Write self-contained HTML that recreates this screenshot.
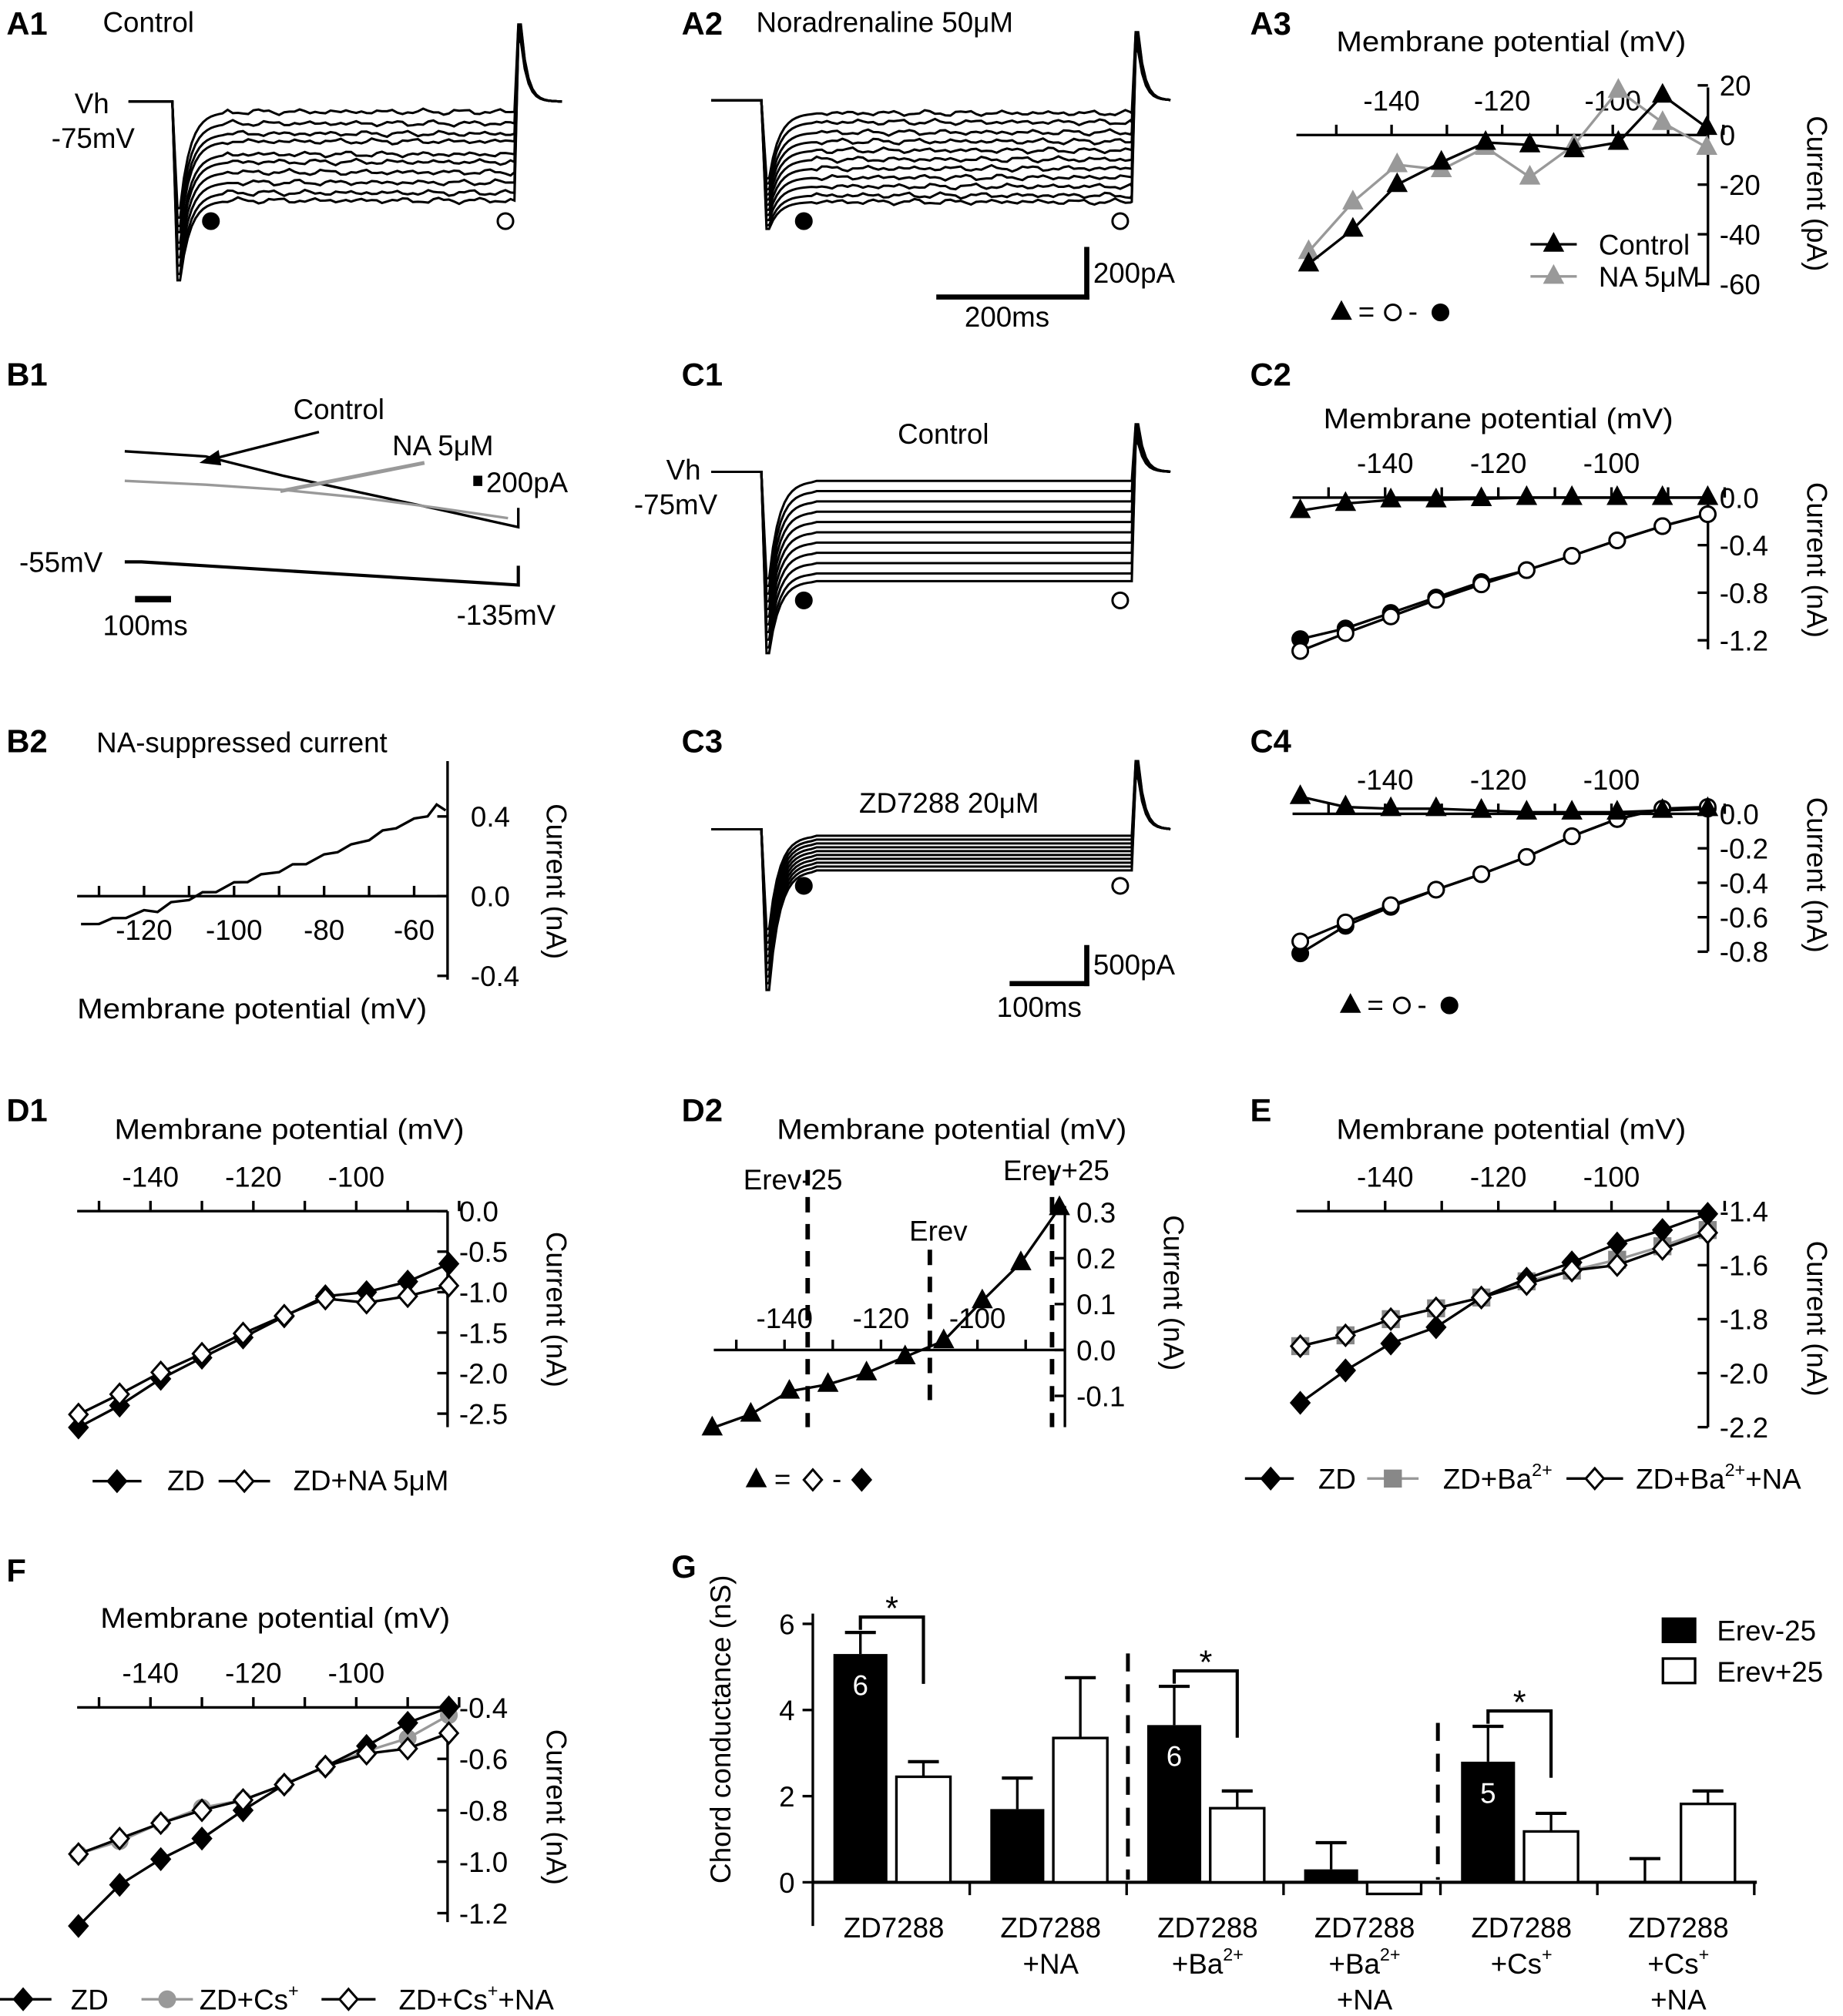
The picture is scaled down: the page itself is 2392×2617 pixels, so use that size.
<!DOCTYPE html>
<html><head><meta charset="utf-8">
<style>
html,body{margin:0;padding:0;background:#fff}
svg{display:block}
text{font-family:"Liberation Sans",sans-serif}
</style></head>
<body>
<svg id="fig" xmlns="http://www.w3.org/2000/svg" width="2392" height="2617" viewBox="0 0 1433 1568" preserveAspectRatio="none">
<g id="g"></g>
</svg>
<script>
// ---------- data ----------
const vA = [-155,-147,-139,-131,-123,-115,-107,-99,-91,-83];
const vD = [-154,-146,-138,-130,-122,-114,-106,-98,-90,-82];
const a3Control = [-52,-38,-20,-11,-3,-4,-6,-3,16,3];
const a3NA = [-47,-27,-12,-14,-5,-17,-4,18,5,-5];
const c2Tri = [-0.11,-0.05,-0.02,-0.02,-0.01,0,0,0,0,0];
const c2Open = [-1.29,-1.14,-1.0,-0.86,-0.73,-0.61,-0.49,-0.36,-0.24,-0.14];
const c2Fill = [-1.19,-1.1,-0.97,-0.84,-0.71,-0.61,-0.49,-0.36,-0.24,-0.14];
const c4Tri = [0.1,0.04,0.03,0.03,0.02,0.01,0.01,0.01,0.02,0.03];
const c4Open = [-0.74,-0.63,-0.53,-0.44,-0.35,-0.25,-0.13,-0.03,0.03,0.04];
const c4Fill = [-0.81,-0.65,-0.54,-0.44,-0.35,-0.25,-0.13,-0.03,0.03,0.03];
const d1ZD = [-2.67,-2.4,-2.07,-1.81,-1.56,-1.3,-1.05,-1.0,-0.87,-0.65];
const d1NA = [-2.51,-2.26,-1.99,-1.76,-1.51,-1.29,-1.08,-1.13,-1.05,-0.92];
const d2Diff = [-0.17,-0.14,-0.09,-0.075,-0.05,-0.015,0.02,0.107,0.19,0.31];
const eZD = [-2.11,-1.99,-1.89,-1.83,-1.72,-1.65,-1.59,-1.52,-1.47,-1.41];
const eBa = [-1.9,-1.86,-1.8,-1.76,-1.72,-1.66,-1.62,-1.58,-1.53,-1.47];
const eBaNA = [-1.9,-1.86,-1.8,-1.76,-1.72,-1.67,-1.62,-1.6,-1.54,-1.48];
const fZD = [-1.25,-1.09,-0.99,-0.91,-0.8,-0.7,-0.63,-0.55,-0.46,-0.4];
const fCs = [-0.97,-0.92,-0.85,-0.79,-0.76,-0.7,-0.63,-0.57,-0.52,-0.43];
const fCsNA = [-0.97,-0.91,-0.85,-0.8,-0.76,-0.7,-0.63,-0.58,-0.56,-0.5];
const b2V = [-134,-130,-127,-124,-120,-117,-114,-110,-107,-104,-100,-97,-94,-90,-87,-84,-80,-77,-74,-70,-67,-64,-60,-57,-55,-53];
const b2I = [-0.15,-0.13,-0.12,-0.1,-0.08,-0.07,-0.04,-0.01,0.01,0.03,0.06,0.08,0.1,0.13,0.15,0.17,0.2,0.23,0.25,0.29,0.32,0.35,0.38,0.41,0.45,0.44];
const gGroups = ["ZD7288","ZD7288|+NA","ZD7288|+Ba2+","ZD7288|+Ba2+|+NA","ZD7288|+Cs+","ZD7288|+Cs+|+NA"];
const gMinus = [5.3,1.7,3.65,0.3,2.8,-0.03];
const gMinusErr = [0.5,0.72,0.9,0.62,0.82,0.58];
const gPlus = [2.45,3.35,1.72,-0.27,1.18,1.82];
const gPlusErr = [0.35,1.4,0.4,0,0.42,0.3];
const gN = ["6","","6","","5",""];
const a1Levels = [87,96,104,110,120,126,134,142,150,156];
const a2Levels = [88,95,103,110,117,124,131,138,145,152,157];
const c1Levels = [374,382,390,398,406,414,422,430,438,446,452];
const c3Levels = [650,653,656,659,662,665,668,671,674,677];

// ---------- helpers ----------
const NS = "http://www.w3.org/2000/svg";
const root = document.getElementById('g');
function mk(tag, attrs, name, parent){
  const el = document.createElementNS(NS, tag);
  for (const k in attrs) el.setAttribute(k, attrs[k]);
  
  
  (parent||root).appendChild(el);
  return el;
}
function txt(x,y,s,name,opt){
  opt = opt||{};
  const t = mk('text',{x:x,y:y,'font-size':opt.fs||22,'text-anchor':opt.anchor||'start','font-weight':opt.bold?'bold':'normal',fill:opt.fill||'#000'},name);
  if (opt.rot) t.setAttribute('transform','rotate('+opt.rot+' '+x+' '+y+')');
  if (opt.len) { t.setAttribute('textLength',opt.len); t.setAttribute('lengthAdjust','spacingAndGlyphs'); }
  if (opt.html) t.innerHTML = s; else t.textContent = s;
  return t;
}
function line(x1,y1,x2,y2,name,opt){
  opt=opt||{};
  return mk('line',{x1:x1,y1:y1,x2:x2,y2:y2,stroke:opt.c||'#000','stroke-width':opt.w||2,'stroke-dasharray':opt.dash||'none'},name);
}
function marker(type,x,y,fill,name,stroke){
  stroke = stroke||'#000';
  if(type==='tri') return mk('polygon',{points:`${x},${y-8} ${x-7},${y+5} ${x+7},${y+5}`,fill:fill,stroke:stroke,'stroke-width':1.5},name);
  if(type==='circ') return mk('circle',{cx:x,cy:y,r:6,fill:fill,stroke:stroke,'stroke-width':1.8},name);
  if(type==='dia') return mk('polygon',{points:`${x},${y-8} ${x+7},${y} ${x},${y+8} ${x-7},${y}`,fill:fill,stroke:stroke,'stroke-width':1.8},name);
  if(type==='sq') return mk('rect',{x:x-7,y:y-7,width:14,height:14,fill:fill,stroke:'none'},name);
}
function series(vs, is, sx, sy, type, fill, color, name, mstroke){
  const pts = vs.map((v,i)=>sx(v)+','+sy(is[i])).join(' ');
  mk('polyline',{points:pts,fill:'none',stroke:color,'stroke-width':2},name+'-line');
  vs.forEach((v,i)=>marker(type,sx(v),sy(is[i]),fill,name+'-point',mstroke||color));
}
function ivAxes(p){
  line(p.xL,p.ay,p.xR,p.ay,p.id+'-x-axis');
  for(let v=p.tickFrom; v<=p.tickTo; v+=10){ line(p.sx(v),p.ay,p.sx(v),p.ay-8,p.id+'-x-tick'); }
  p.xLabels.forEach(v=>txt(p.sx(v),p.ay-p.lblOff,String(v),p.id+'-x-tick-label',{anchor:'middle'}));
  line(p.yx,p.yT,p.yx,p.yB,p.id+'-y-axis');
  p.yTicks.forEach(v=>{ line(p.yx,p.sy(v),p.yx-8,p.sy(v),p.id+'-y-tick');
    txt(p.yx+9,p.sy(v)+8,p.yFmt(v),p.id+'-y-tick-label'); });
}
const f1 = v=> (v===0?'0.0':v.toFixed(1));

// ---------- panel labels ----------
[["A1",5,27],["A2",530,27],["A3",972,27],["B1",5,300],["C1",530,300],["C2",972,300],["B2",5,585],["C3",530,585],["C4",972,585],["D1",5,872],["D2",530,872],["E",972,872],["F",5,1230],["G",522,1227]].forEach(l=>txt(l[1],l[2],l[0],'panel-label-'+l[0].toLowerCase(),{bold:true,fs:25}));

// ---------- current traces ----------
function wig(x,k){ return 1.1*Math.sin(x*1.37+k*1.7)+0.9*Math.sin(x*0.53+k*2.9)+0.6*Math.sin(x*2.9+k); }
function traces(levels,cfg,name){
  levels.forEach((lv,k)=>{
    const frac=(lv-cfg.base)/(levels[levels.length-1]-cfg.base);
    const peak = cfg.base+(cfg.trans-cfg.base)*(0.55+0.45*frac);
    let d=`M${cfg.x0},${cfg.base} L${cfg.xs},${cfg.base} L${cfg.xs+4},${peak}`;
    for(let x=cfg.xs+6;x<=cfg.xs+40;x+=3){ const t=(x-cfg.xs-6)/8; d+=` L${x},${(lv+(peak-lv)*Math.exp(-t)).toFixed(1)}`; }
    for(let x=cfg.xs+43;x<cfg.xe;x+=4){ d+=` L${x},${(lv+(cfg.noise?wig(x,k):0)).toFixed(1)}`; }
    d+=` L${cfg.xe},${lv} L${cfg.xe+3},${cfg.spike+ k*1.5}`;
    for(let x=cfg.xe+5;x<=cfg.xe+30;x+=3){ const t=(x-cfg.xe-5)/5; d+=` L${x},${(cfg.base+(cfg.spike+k*1.5-cfg.base)*Math.exp(-t)).toFixed(1)}`; }
    d+=` L${cfg.xf},${cfg.base}`;
    mk('path',{d:d,fill:'none',stroke:'#000','stroke-width':1.8},name);
  });
}
traces(a1Levels,{x0:100,xs:134,xe:400,xf:437,base:79,trans:218,spike:19,noise:true},'a1-trace');
traces(a2Levels,{x0:553,xs:592,xe:880,xf:910,base:78,trans:178,spike:25,noise:true},'a2-trace');
traces(c1Levels,{x0:553,xs:592,xe:880,xf:910,base:367,trans:508,spike:330,noise:false},'c1-trace');
traces(c3Levels,{x0:553,xs:592,xe:880,xf:910,base:645,trans:770,spike:592,noise:false},'c3-trace');

txt(80,25,'Control','a1-title');
txt(58,88,'Vh','a1-vh-label'); txt(40,115,'-75mV','a1-vh-value');
marker('circ',164,172,'#000','a1-filled-circle'); marker('circ',393,172,'#fff','a1-open-circle');
txt(588,25,'Noradrenaline 50&#956;M','a2-title',{html:true});
marker('circ',625,172,'#000','a2-filled-circle'); marker('circ',871,172,'#fff','a2-open-circle');
line(728,231,847,231,'a2-scale-x',{w:4}); line(845,192,845,233,'a2-scale-y',{w:4});
txt(850,220,'200pA','a2-scale-y-label'); txt(750,254,'200ms','a2-scale-x-label');

txt(698,345,'Control','c1-title');
txt(518,373,'Vh','c1-vh-label'); txt(493,400,'-75mV','c1-vh-value');
marker('circ',625,467,'#000','c1-filled-circle'); marker('circ',871,467,'#fff','c1-open-circle');
txt(668,632,'ZD7288 20&#956;M','c3-title',{html:true});
marker('circ',625,689,'#000','c3-filled-circle'); marker('circ',871,689,'#fff','c3-open-circle');
line(785,765,847,765,'c3-scale-x',{w:4}); line(845,735,845,767,'c3-scale-y',{w:4});
txt(850,758,'500pA','c3-scale-y-label'); txt(775,791,'100ms','c3-scale-x-label');

// ---------- B1 ----------
mk('path',{d:'M97,351 L160,355 L220,370 L280,383 L340,396 L403,410 L403,395',fill:'none',stroke:'#000','stroke-width':2},'b1-control-trace');
mk('path',{d:'M97,374 L160,377 L220,381 L280,387 L340,395 L395,403',fill:'none',stroke:'#999','stroke-width':2},'b1-na-trace');
txt(228,326,'Control','b1-control-label');
line(248,336,165,357,'b1-control-arrow');
mk('polygon',{points:'155,360 170,350 172,362',fill:'#000'},'b1-control-arrowhead');
txt(305,354,'NA 5&#956;M','b1-na-label',{html:true});
line(330,360,218,382,'b1-na-arrow',{c:'#999',w:3});
mk('rect',{x:368,y:370,width:7,height:8,fill:'#000'},'b1-scale-square');
txt(378,383,'200pA','b1-scale-label');
mk('path',{d:'M97,437 L110,437 L403,455 L403,440',fill:'none',stroke:'#000','stroke-width':2.5},'b1-voltage-ramp');
txt(15,445,'-55mV','b1-start-voltage'); txt(355,486,'-135mV','b1-end-voltage');
line(105,466,133,466,'b1-time-scale',{w:5}); txt(80,494,'100ms','b1-time-scale-label');

// ---------- B2 ----------
(function(){
  const sx=v=>112+(v+120)*3.5, sy=i=>697-i*155;
  line(60,697,348,697,'b2-x-axis');
  [-130,-120,-110,-100,-90,-80,-70,-60].forEach(v=>line(sx(v),697,sx(v),689,'b2-x-tick'));
  [-120,-100,-80,-60].forEach(v=>txt(sx(v),731,String(v),'b2-x-tick-label',{anchor:'middle'}));
  line(348,592,348,762,'b2-y-axis');
  [0.4,0,-0.4].forEach(v=>{line(348,sy(v),340,sy(v),'b2-y-tick');txt(366,sy(v)+8,f1(v),'b2-y-tick-label');});
  mk('polyline',{points:b2V.map((v,i)=>sx(v)+','+(sy(b2I[i])+(i%2?1.5:-1.5))).join(' '),fill:'none',stroke:'#000','stroke-width':2},'b2-na-suppressed-trace');
  txt(75,585,'NA-suppressed current','b2-title');
  txt(60,792,'Membrane potential (mV)','b2-x-axis-title',{len:272});
  txt(425,625,'Current (nA)','b2-y-axis-title',{rot:90});
})();

// ---------- A3 ----------
(function(){
  const sx=v=>1082+(v+140)*4.3, sy=i=>105-i*1.93;
  ivAxes({id:'a3',xL:1008,xR:1328,ay:105,sx:sx,sy:sy,tickFrom:-150,tickTo:-80,xLabels:[-140,-120,-100],lblOff:19,yx:1328,yT:68,yB:222,yTicks:[20,0,-20,-40,-60],yFmt:v=>String(v)});
  series(vA,a3NA,sx,sy,'tri','#999','#999','a3-na-series');
  series(vA,a3Control,sx,sy,'tri','#000','#000','a3-control-series');
  txt(1175,40,'Membrane potential (mV)','a3-x-axis-title',{anchor:'middle',len:272});
  txt(1405,90,'Current (pA)','a3-y-axis-title',{rot:90});
  line(1190,190,1226,190,'legend-control-line'); marker('tri',1208,190,'#000','legend-control-marker'); txt(1243,198,'Control','legend-control-label');
  line(1190,215,1226,215,'legend-na-line',{c:'#999'}); marker('tri',1208,215,'#999','legend-na-marker','#999'); txt(1243,223,'NA 5&#956;M','legend-na-label',{html:true});
  marker('tri',1043,243,'#000','a3-eq-triangle'); txt(1056,250,'=','a3-eq-sign'); marker('circ',1083,243,'#fff','a3-eq-open'); txt(1095,250,'-','a3-eq-minus'); marker('circ',1120,243,'#000','a3-eq-filled');
})();

// ---------- C2 ----------
(function(){
  const sx=v=>1077+(v+140)*4.4, sy=i=>387-i*92.5;
  ivAxes({id:'c2',xL:1005,xR:1328,ay:387,sx:sx,sy:sy,tickFrom:-150,tickTo:-80,xLabels:[-140,-120,-100],lblOff:19,yx:1328,yT:387,yB:505,yTicks:[0,-0.4,-0.8,-1.2],yFmt:f1});
  series(vA,c2Fill,sx,sy,'circ','#000','#000','c2-filled-circle-series');
  series(vA,c2Open,sx,sy,'circ','#fff','#000','c2-open-circle-series');
  series(vA,c2Tri,sx,sy,'tri','#000','#000','c2-triangle-series');
  txt(1165,333,'Membrane potential (mV)','c2-x-axis-title',{anchor:'middle',len:272});
  txt(1405,375,'Current (nA)','c2-y-axis-title',{rot:90});
})();

// ---------- C4 ----------
(function(){
  const sx=v=>1077+(v+140)*4.4, sy=i=>633-i*134;
  ivAxes({id:'c4',xL:1005,xR:1328,ay:633,sx:sx,sy:sy,tickFrom:-150,tickTo:-80,xLabels:[-140,-120,-100],lblOff:19,yx:1328,yT:625,yB:740,yTicks:[0,-0.2,-0.4,-0.6,-0.8],yFmt:f1});
  series(vA,c4Fill,sx,sy,'circ','#000','#000','c4-filled-circle-series');
  series(vA,c4Open,sx,sy,'circ','#fff','#000','c4-open-circle-series');
  series(vA,c4Tri,sx,sy,'tri','#000','#000','c4-triangle-series');
  txt(1405,620,'Current (nA)','c4-y-axis-title',{rot:90});
  marker('tri',1050,782,'#000','c4-eq-triangle'); txt(1063,789,'=','c4-eq-sign'); marker('circ',1090,782,'#fff','c4-eq-open'); txt(1102,789,'-','c4-eq-minus'); marker('circ',1127,782,'#000','c4-eq-filled');
})();

// ---------- D1 ----------
(function(){
  const sx=v=>117+(v+140)*4, sy=i=>942-i*63;
  ivAxes({id:'d1',xL:60,xR:348,ay:942,sx:sx,sy:sy,tickFrom:-150,tickTo:-80,xLabels:[-140,-120,-100],lblOff:19,yx:348,yT:942,yB:1110,yTicks:[0,-0.5,-1,-1.5,-2,-2.5],yFmt:f1});
  series(vD,d1ZD,sx,sy,'dia','#000','#000','d1-zd-series');
  series(vD,d1NA,sx,sy,'dia','#fff','#000','d1-zd-na-series');
  txt(225,886,'Membrane potential (mV)','d1-x-axis-title',{anchor:'middle',len:272});
  txt(425,958,'Current (nA)','d1-y-axis-title',{rot:90});
  line(72,1152,110,1152,'legend-zd-line'); marker('dia',91,1152,'#000','legend-zd-marker'); txt(130,1159,'ZD','legend-zd-label');
  line(170,1152,210,1152,'legend-zd-na-line'); marker('dia',190,1152,'#fff','legend-zd-na-marker'); txt(228,1159,'ZD+NA 5&#956;M','legend-zd-na-label',{html:true});
})();

// ---------- D2 ----------
(function(){
  const sx=v=>610+(v+140)*3.75, sy=i=>1050-i*357;
  ivAxes({id:'d2',xL:555,xR:828,ay:1050,sx:sx,sy:sy,tickFrom:-150,tickTo:-90,xLabels:[-140,-120,-100],lblOff:17,yx:828,yT:938,yB:1110,yTicks:[0.3,0.2,0.1,0,-0.1],yFmt:f1});
  line(628,910,628,1110,'d2-erev-minus-25-line',{w:3.5,dash:'12,9'});
  line(723,972,723,1090,'d2-erev-line',{w:3.5,dash:'12,9'});
  line(818,910,818,1110,'d2-erev-plus-25-line',{w:3.5,dash:'12,9'});
  series(vA,d2Diff,sx,sy,'tri','#000','#000','d2-difference-series');
  txt(740,886,'Membrane potential (mV)','d2-x-axis-title',{anchor:'middle',len:272});
  txt(578,925,'Erev-25','d2-erev-minus-25-label'); txt(707,965,'Erev','d2-erev-label'); txt(780,918,'Erev+25','d2-erev-plus-25-label');
  txt(905,945,'Current (nA)','d2-y-axis-title',{rot:90});
  marker('tri',588,1151,'#000','d2-eq-triangle'); txt(602,1158,'=','d2-eq-sign'); marker('dia',632,1151,'#fff','d2-eq-open'); txt(647,1158,'-','d2-eq-minus'); marker('dia',670,1151,'#000','d2-eq-filled');
})();

// ---------- E ----------
(function(){
  const sx=v=>1077+(v+140)*4.4, sy=i=>942-(i+1.4)*210;
  ivAxes({id:'e',xL:1008,xR:1328,ay:942,sx:sx,sy:sy,tickFrom:-150,tickTo:-80,xLabels:[-140,-120,-100],lblOff:19,yx:1328,yT:942,yB:1110,yTicks:[-1.4,-1.6,-1.8,-2,-2.2],yFmt:f1});
  series(vA,eBa,sx,sy,'sq','#888','#999','e-zd-ba-series');
  series(vA,eZD,sx,sy,'dia','#000','#000','e-zd-series');
  series(vA,eBaNA,sx,sy,'dia','#fff','#000','e-zd-ba-na-series');
  txt(1175,886,'Membrane potential (mV)','e-x-axis-title',{anchor:'middle',len:272});
  txt(1405,965,'Current (nA)','e-y-axis-title',{rot:90});
  line(968,1150,1006,1150,'legend-e-zd-line'); marker('dia',988,1150,'#000','legend-e-zd-marker'); txt(1025,1158,'ZD','legend-e-zd-label');
  line(1063,1150,1103,1150,'legend-e-ba-line',{c:'#999'}); marker('sq',1083,1150,'#888','legend-e-ba-marker'); txt(1122,1158,'ZD+Ba<tspan dy="-10" font-size="14">2+</tspan>','legend-e-ba-label',{html:true});
  line(1218,1150,1262,1150,'legend-e-ba-na-line'); marker('dia',1240,1150,'#fff','legend-e-ba-na-marker'); txt(1272,1158,'ZD+Ba<tspan dy="-10" font-size="14">2+</tspan><tspan dy="10">+NA</tspan>','legend-e-ba-na-label',{html:true});
})();

// ---------- F ----------
(function(){
  const sx=v=>117+(v+140)*4, sy=i=>1328-(i+0.4)*200;
  ivAxes({id:'f',xL:60,xR:348,ay:1328,sx:sx,sy:sy,tickFrom:-150,tickTo:-80,xLabels:[-140,-120,-100],lblOff:19,yx:348,yT:1328,yB:1495,yTicks:[-0.4,-0.6,-0.8,-1,-1.2],yFmt:f1});
  series(vD,fCs,sx,sy,'circ','#999','#999','f-zd-cs-series','#999');
  series(vD,fZD,sx,sy,'dia','#000','#000','f-zd-series');
  series(vD,fCsNA,sx,sy,'dia','#fff','#000','f-zd-cs-na-series');
  txt(214,1266,'Membrane potential (mV)','f-x-axis-title',{anchor:'middle',len:272});
  txt(425,1345,'Current (nA)','f-y-axis-title',{rot:90});
  line(0,1555,40,1555,'legend-f-zd-line'); marker('dia',18,1555,'#000','legend-f-zd-marker'); txt(55,1563,'ZD','legend-f-zd-label');
  line(110,1555,150,1555,'legend-f-cs-line',{c:'#999'}); marker('circ',130,1555,'#999','legend-f-cs-marker','#999'); txt(155,1563,'ZD+Cs<tspan dy="-10" font-size="14">+</tspan>','legend-f-cs-label',{html:true});
  line(250,1555,292,1555,'legend-f-cs-na-line'); marker('dia',271,1555,'#fff','legend-f-cs-na-marker'); txt(310,1563,'ZD+Cs<tspan dy="-10" font-size="14">+</tspan><tspan dy="10">+NA</tspan>','legend-f-cs-na-label',{html:true});
})();

// ---------- G ----------
(function(){
  const y0=1464, sy=v=>y0-v*33.5, gx=i=>632+i*122;
  line(632,1255,632,1498,'g-y-axis');
  [6,4,2,0].forEach(v=>{line(632,sy(v),624,sy(v),'g-y-tick');txt(618,sy(v)+8,String(v),'g-y-tick-label',{anchor:'end'});});
  line(632,y0,1366,y0,'g-x-axis',{w:2.5});
  for(let i=1;i<=6;i++) line(gx(i),y0,gx(i),y0+10,'g-x-tick');
  gGroups.forEach((g,i)=>{
    const bx=gx(i)+16, wx=gx(i)+65, bw=42;
    const mv=gMinus[i], pv=gPlus[i];
    mk('rect',{x:bx,y:Math.min(sy(mv),y0),width:bw,height:Math.abs(sy(mv)-y0),fill:'#000'},'bar-erev-minus-25');
    mk('rect',{x:wx,y:Math.min(sy(pv),y0),width:bw,height:Math.abs(sy(pv)-y0),fill:'#fff',stroke:'#000','stroke-width':2},'bar-erev-plus-25');
    const mc=bx+bw/2, pc=wx+bw/2;
    line(mc,sy(mv),mc,sy(mv+gMinusErr[i]),'error-bar-minus');
    line(mc-12,sy(mv+gMinusErr[i]),mc+12,sy(mv+gMinusErr[i]),'error-cap-minus',{w:2.5});
    if(gPlusErr[i]>0){ line(pc,sy(pv),pc,sy(pv+gPlusErr[i]),'error-bar-plus');
      line(pc-12,sy(pv+gPlusErr[i]),pc+12,sy(pv+gPlusErr[i]),'error-cap-plus',{w:2.5}); }
    if(gN[i]) txt(mc,sy(mv)+32,gN[i],'bar-n-label',{anchor:'middle',fs:22,fill:'#fff'});
    const parts=g.split('|'), cx=gx(i)+63;
    parts.forEach((s,k)=>{
      let h=s;
      if(k>0 && s!=='+NA'){ const base=s.replace(/(2\+|\+)$/,''); const sup=s.slice(base.length);
        h = base+'<tspan dy="-10" font-size="14">'+sup+'</tspan>'; }
      txt(cx,1507+k*28,h,'g-group-label',{anchor:'middle',fs:22,html:true});
    });
  });
  [[0,5.3+0.5],[2,3.65+0.9],[4,2.8+0.82]].forEach(b=>{
    const i=b[0], top=sy(b[1])-12, l=gx(i)+37, r=gx(i)+86;
    mk('path',{d:`M${l},${top+10} L${l},${top} L${r},${top} L${r},${top+52}`,fill:'none',stroke:'#000','stroke-width':2.5},'significance-bracket');
    txt((l+r)/2,top+2,'*','significance-star',{anchor:'middle',fs:26});
  });
  line(877,1286,877,1462,'g-divider-1',{w:3,dash:'14,10'});
  line(1118,1340,1118,1462,'g-divider-2',{w:3,dash:'14,10'});
  mk('rect',{x:1292,y:1258,width:27,height:20,fill:'#000'},'legend-erev-minus-25-swatch');
  txt(1335,1276,'Erev-25','legend-erev-minus-25-label');
  mk('rect',{x:1293,y:1290,width:25,height:19,fill:'#fff',stroke:'#000','stroke-width':2},'legend-erev-plus-25-swatch');
  txt(1335,1308,'Erev+25','legend-erev-plus-25-label');
  txt(568,1465,'Chord conductance (nS)','g-y-axis-title',{rot:-90,len:240});
})();
</script>
</body></html>
